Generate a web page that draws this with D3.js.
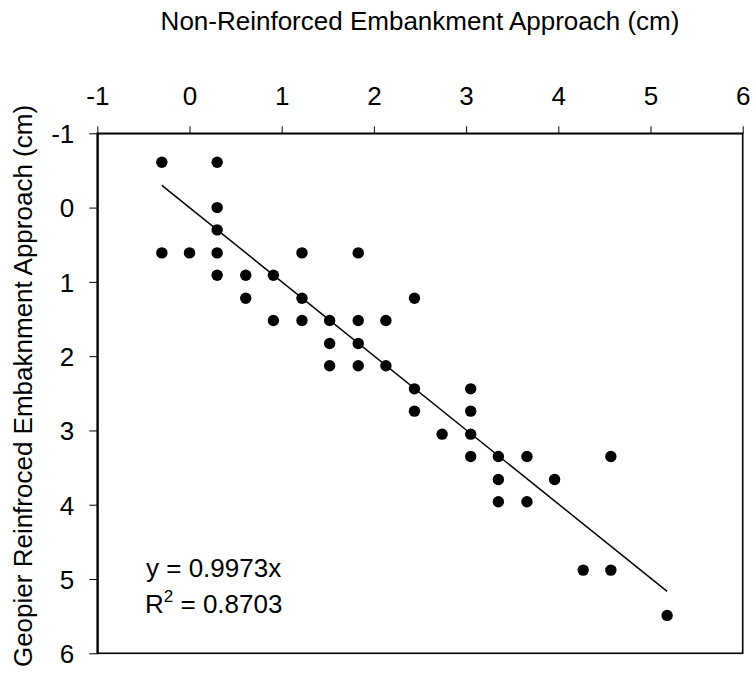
<!DOCTYPE html>
<html>
<head>
<meta charset="utf-8">
<script src="https://cdn.jsdelivr.net/npm/d3@7/dist/d3.min.js"></script>
<style>
  html, body { margin: 0; padding: 0; background: #fff; }
  svg { display: block; }
  text { font-family: Arial, "Liberation Sans", sans-serif; fill: #000; }
</style>
</head>
<body>
<svg id="chart" width="756" height="677"></svg>
<script>
// ---- data ----
const xValues = [-0.30, 0.30, 0.30, 0.30, -0.30, 0.00, 0.30, 0.30, 0.61, 0.61,
                 1.22, 1.83, 0.91, 1.22, 2.44, 0.91, 1.22, 1.52, 1.83, 2.13,
                 1.52, 1.83, 1.52, 1.83, 2.13, 2.44, 3.05, 2.44, 3.05, 2.74,
                 3.05, 3.05, 3.35, 3.66, 4.57, 3.35, 3.96, 3.35, 3.66, 4.27,
                 4.57, 5.18];
const yValues = [-0.61, -0.61, 0.00, 0.30, 0.61, 0.61, 0.61, 0.91, 0.91, 1.22,
                 0.61, 0.61, 0.91, 1.22, 1.22, 1.52, 1.52, 1.52, 1.52, 1.52,
                 1.83, 1.83, 2.13, 2.13, 2.13, 2.44, 2.44, 2.74, 2.74, 3.05,
                 3.05, 3.35, 3.35, 3.35, 3.35, 3.66, 3.66, 3.96, 3.96, 4.88,
                 4.88, 5.49];
const xTicks = [-1, 0, 1, 2, 3, 4, 5, 6];
const yTicks = [-1, 0, 1, 2, 3, 4, 5, 6];
const slope = 0.9973;
const rSquared = "0.8703";
const xTitle = "Non-Reinforced Embankment Approach (cm)";
const yTitle = "Geopier Reinfroced Embaknment Approach (cm)";

// ---- layout ----
const pLeft = 97.3, pRight = 742.7, pTop = 133.3, pBottom = 653.3;
const fontSize = 26;
const svg = d3.select("#chart");

const x = d3.scaleLinear().domain([-1, 6]).range([pLeft, pRight]);
const y = d3.scaleLinear().domain([-1, 6]).range([pTop, pBottom]);

// plot frame
svg.append("rect")
  .attr("x", pLeft).attr("y", pTop)
  .attr("width", pRight - pLeft).attr("height", pBottom - pTop)
  .attr("fill", "none").attr("stroke", "#000").attr("stroke-width", 1.6);

// top x axis
const xAxis = svg.append("g")
  .attr("transform", `translate(0,${pTop})`)
  .call(d3.axisTop(x).tickValues(xTicks).tickFormat(d => String(d)).tickSize(7).tickSizeOuter(0));
xAxis.select(".domain").attr("stroke-width", 1.6);
xAxis.selectAll(".tick line").attr("stroke-width", 1);
xAxis.selectAll(".tick text").attr("font-size", fontSize).attr("dy", 0).attr("y", -28)
  .style("font-family", "Arial, 'Liberation Sans', sans-serif");

// left y axis
const yAxis = svg.append("g")
  .attr("transform", `translate(${pLeft},0)`)
  .call(d3.axisLeft(y).tickValues(yTicks).tickFormat(d => String(d)).tickSize(8).tickSizeOuter(0));
yAxis.select(".domain").attr("stroke-width", 2);
yAxis.selectAll(".tick line").attr("stroke-width", 1);
yAxis.selectAll(".tick text").attr("font-size", fontSize).attr("x", -23).attr("dy", "0.36em")
  .style("font-family", "Arial, 'Liberation Sans', sans-serif");

// titles
svg.append("text")
  .attr("x", (pLeft + pRight) / 2).attr("y", 30)
  .attr("text-anchor", "middle").attr("font-size", fontSize)
  .text(xTitle);

svg.append("text")
  .attr("transform", `translate(32,386) rotate(-90)`)
  .attr("text-anchor", "middle").attr("font-size", fontSize)
  .text(yTitle);

// trend line
const data = xValues.map((v, i) => ({ x: v, y: yValues[i] }));
const xMin = d3.min(xValues), xMax = d3.max(xValues);
svg.append("line")
  .attr("x1", x(xMin)).attr("y1", y(slope * xMin))
  .attr("x2", x(xMax)).attr("y2", y(slope * xMax))
  .attr("stroke", "#000").attr("stroke-width", 1.5);

// points
svg.append("g").selectAll("circle").data(data).enter().append("circle")
  .attr("cx", d => x(d.x)).attr("cy", d => y(d.y))
  .attr("r", 5.7).attr("fill", "#000");

// equation annotation
svg.append("text")
  .attr("x", 146).attr("y", 577).attr("font-size", fontSize)
  .text(`y = ${slope}x`);
const r2 = svg.append("text")
  .attr("x", 145).attr("y", 613).attr("font-size", fontSize);
r2.append("tspan").text("R");
r2.append("tspan").attr("dy", -11).attr("font-size", 17).text("2");
r2.append("tspan").attr("dy", 11).text(` = ${rSquared}`);
</script>
</body>
</html>
